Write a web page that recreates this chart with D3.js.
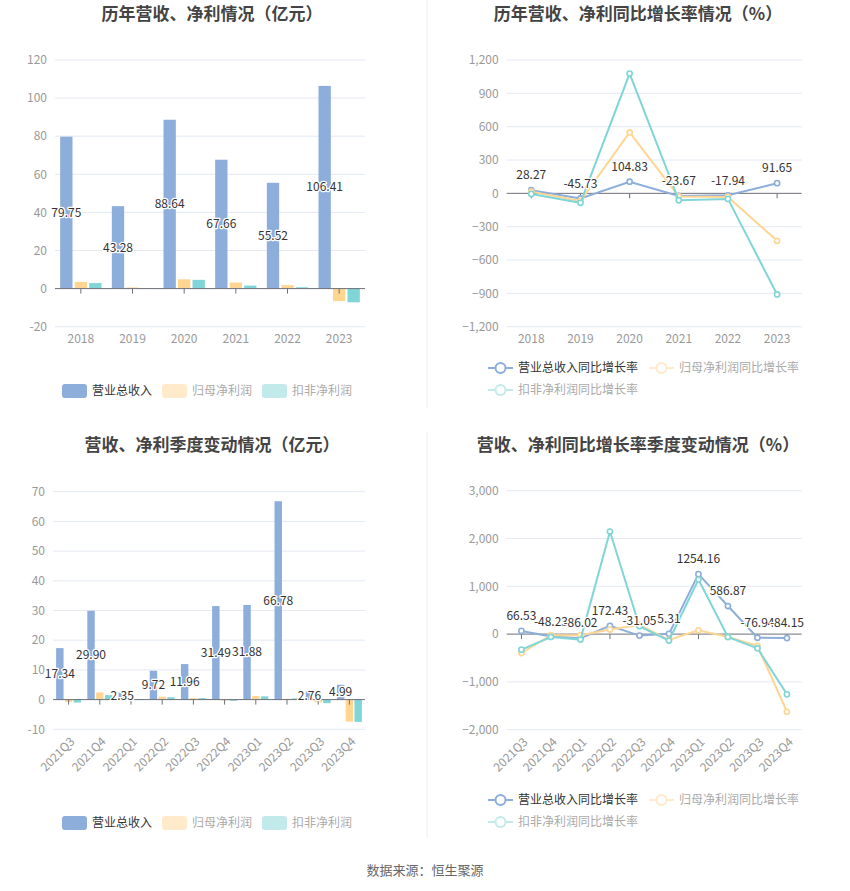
<!DOCTYPE html>
<html>
<head>
<meta charset="utf-8">
<script src="https://cdn.jsdelivr.net/npm/d3@7"></script>
<style>
  body { margin: 0; background: #fff; }
  svg { display: block; font-family: "Noto Sans CJK SC", "Noto Sans", sans-serif; }
</style>
</head>
<body>
<svg id="chart" width="850" height="891"></svg>
<script>
// yearly data (亿元 / %)
const years = ['2018', '2019', '2020', '2021', '2022', '2023'];
const revenue = [79.75, 43.28, 88.64, 67.66, 55.52, 106.41];
const netProfit = [3.5, 0.6, 4.9, 3.2, 1.8, -6.6];
const deductedProfit = [2.9, 0.3, 4.6, 1.6, 0.7, -7.2];
const revenueYoY = [28.27, -45.73, 104.83, -23.67, -17.94, 91.65];
const netProfitYoY = [15, -68, 548, -28, -32, -427];
const deductedYoY = [-5, -85, 1078, -62, -50, -910];

// quarterly data
const quarters = ['2021Q3', '2021Q4', '2022Q1', '2022Q2', '2022Q3', '2022Q4', '2023Q1', '2023Q2', '2023Q3', '2023Q4'];
const qRevenue = [17.34, 29.90, 2.35, 9.72, 11.96, 31.49, 31.88, 66.78, 2.76, 4.99];
const qNetProfit = [-0.8, 2.4, 0.1, 1.0, 0.5, -0.3, 1.2, 0.3, -0.9, -7.4];
const qDeducted = [-1.0, 1.5, 0.1, 0.8, 0.5, -0.4, 1.1, 0.4, -1.2, -7.5];
const qRevenueYoY = [66.53, -48.23, -86.02, 172.43, -31.05, 5.31, 1254.16, 586.87, -76.94, -84.15];
const qNetProfitYoY = [-395, -22, -22, 95, 190, -120, 80, -60, -245, -1625];
const qDeductedYoY = [-325, -60, -115, 2145, 165, -135, 1140, -60, -295, -1260];

const barNames = ['营业总收入', '归母净利润', '扣非净利润'];
const lineNames = ['营业总收入同比增长率', '归母净利润同比增长率', '扣非净利润同比增长率'];

const colors = ['#8DADDB', '#FFD592', '#80D5D7'];
const paleColors = ['#8DADDB', '#FFEBCB', '#C3EAEB'];

const svg = d3.select('#chart');
const gridColor = '#E3E8F3';
const axisColor = '#6E7079';
const labelColor = '#999';

// dividers between panels
svg.append('line').attr('x1', 427).attr('x2', 427).attr('y1', 0).attr('y2', 408)
  .attr('stroke', '#F0F0F0');
svg.append('line').attr('x1', 427).attr('x2', 427).attr('y1', 432).attr('y2', 838)
  .attr('stroke', '#F0F0F0');

function title(x, y, txt) {
  svg.append('text').attr('x', x).attr('y', y).attr('text-anchor', 'middle')
    .attr('dy', '0.35em').attr('font-size', 17).attr('font-weight', 'bold')
    .attr('fill', '#444').text(txt);
}

function yAxis(y, x0, x1, ticks, fmt) {
  const g = svg.append('g');
  g.selectAll('line.grid').data(ticks.filter(t => t !== 0)).join('line')
    .attr('x1', x0).attr('x2', x1)
    .attr('y1', d => y(d)).attr('y2', d => y(d))
    .attr('stroke', gridColor);
  g.selectAll('text').data(ticks).join('text')
    .attr('x', x0 - 8).attr('y', d => y(d)).attr('dy', '0.35em')
    .attr('text-anchor', 'end').attr('font-size', 12).attr('fill', labelColor)
    .text(fmt);
}

function xAxis(cats, xc, y, x0, x1, bottom, rotate) {
  const g = svg.append('g');
  g.append('line').attr('x1', x0).attr('x2', x1).attr('y1', y(0)).attr('y2', y(0))
    .attr('stroke', axisColor);
  g.selectAll('line.tick').data(cats).join('line')
    .attr('x1', d => xc(d)).attr('x2', d => xc(d))
    .attr('y1', y(0)).attr('y2', y(0) + 5).attr('stroke', axisColor);
  const t = g.selectAll('text').data(cats).join('text')
    .attr('font-size', 12).attr('fill', labelColor).text(d => d);
  if (rotate) {
    t.attr('text-anchor', 'end').attr('dy', '0.35em')
      .attr('transform', d => `translate(${xc(d) + 4},${bottom + 10}) rotate(-45)`);
  } else {
    t.attr('text-anchor', 'middle').attr('dy', '0.35em')
      .attr('x', d => xc(d)).attr('y', bottom + 12);
  }
}

function dataLabel(sel) {
  sel.attr('text-anchor', 'middle').attr('dy', '0.35em').attr('font-size', 12)
    .attr('fill', '#333').attr('stroke', '#fff').attr('stroke-width', 2.5)
    .attr('paint-order', 'stroke').attr('stroke-linejoin', 'round');
}

function barChart(o) {
  const y = d3.scaleLinear().domain(o.domain).range([o.bottom, o.top]);
  const x0 = d3.scaleBand().domain(o.cats).range([o.left, o.right])
    .paddingInner(0.2).paddingOuter(0.1);
  const x1 = d3.scaleBand().domain([0, 1, 2]).range([0, x0.bandwidth()])
    .paddingInner(0.15);
  const xc = d => x0(d) + x0.bandwidth() / 2 - (x0.step() * 0) ;
  yAxis(y, o.left, o.right, d3.range(o.domain[0], o.domain[1] + 1, o.step), d => d);

  o.series.forEach((vals, si) => {
    svg.append('g').selectAll('rect').data(vals).join('rect')
      .attr('x', (d, i) => x0(o.cats[i]) + x1(si))
      .attr('width', x1.bandwidth())
      .attr('y', d => y(Math.max(0, d)))
      .attr('height', d => Math.abs(y(d) - y(0)))
      .attr('fill', colors[si]);
  });
  xAxis(o.cats, d => x0(d) + x0.bandwidth() / 2, y, o.left, o.right, o.bottom, o.rotate);

  svg.append('g').selectAll('text').data(o.series[0]).join('text')
    .attr('x', (d, i) => x0(o.cats[i]) + x1(0) + x1.bandwidth() / 2)
    .attr('y', d => (y(d) + y(0)) / 2)
    .call(dataLabel)
    .text(d => d.toFixed(2));
}

function lineChart(o) {
  const y = d3.scaleLinear().domain(o.domain).range([o.bottom, o.top]);
  const x = d3.scalePoint().domain(o.cats).range([o.left, o.right]).padding(0.5);
  yAxis(y, o.left, o.right, d3.range(o.domain[0], o.domain[1] + 1, o.step), d3.format(','));
  xAxis(o.cats, x, y, o.left, o.right, o.bottom, o.rotate);

  const line = d3.line().x((d, i) => x(o.cats[i])).y(d => y(d));
  o.series.forEach((vals, si) => {
    const g = svg.append('g');
    g.append('path').datum(vals).attr('d', line).attr('fill', 'none')
      .attr('stroke', colors[si]).attr('stroke-width', 2);
    g.selectAll('circle').data(vals).join('circle')
      .attr('cx', (d, i) => x(o.cats[i])).attr('cy', d => y(d)).attr('r', 2.6)
      .attr('fill', '#fff').attr('stroke', colors[si]).attr('stroke-width', 1.6);
  });
  svg.append('g').selectAll('text').data(o.series[0]).join('text')
    .attr('x', (d, i) => x(o.cats[i])).attr('y', d => y(d) - 15)
    .call(dataLabel)
    .text(d => d.toFixed(2));
}

function barLegend(x, y) {
  let cx = x;
  barNames.forEach((n, i) => {
    svg.append('rect').attr('x', cx).attr('y', y - 7).attr('width', 25).attr('height', 14)
      .attr('rx', 3).attr('fill', paleColors[i]);
    svg.append('text').attr('x', cx + 30).attr('y', y).attr('dy', '0.35em')
      .attr('font-size', 12).attr('fill', i === 0 ? '#333' : '#aaa').text(n);
    cx += 100;
  });
}

function lineLegend(x, y) {
  lineNames.forEach((n, i) => {
    const lx = x + (i === 1 ? 161 : 0);
    const ly = y + (i === 2 ? 22 : 0);
    svg.append('line').attr('x1', lx).attr('x2', lx + 25).attr('y1', ly).attr('y2', ly)
      .attr('stroke', paleColors[i]).attr('stroke-width', 2);
    svg.append('circle').attr('cx', lx + 12.5).attr('cy', ly).attr('r', 5)
      .attr('fill', '#fff').attr('stroke', paleColors[i]).attr('stroke-width', 2);
    svg.append('text').attr('x', lx + 30).attr('y', ly).attr('dy', '0.35em')
      .attr('font-size', 12).attr('fill', i === 0 ? '#333' : '#aaa').text(n);
  });
}

// top left
title(212, 14, '历年营收、净利情况（亿元）');
barChart({ cats: years, series: [revenue, netProfit, deductedProfit],
  domain: [-20, 120], step: 20, left: 55, right: 365, top: 60, bottom: 326.7 });
barLegend(62, 391);

// top right
title(638, 14, '历年营收、净利同比增长率情况（%）');
lineChart({ cats: years, series: [revenueYoY, netProfitYoY, deductedYoY],
  domain: [-1200, 1200], step: 300, left: 506.7, right: 801.7, top: 60, bottom: 326.7 });
lineLegend(488, 368);

// bottom left
title(212, 445, '营收、净利季度变动情况（亿元）');
barChart({ cats: quarters, series: [qRevenue, qNetProfit, qDeducted],
  domain: [-10, 70], step: 10, left: 53, right: 365, top: 491.7, bottom: 729.3, rotate: true });
barLegend(62, 823);

// bottom right
title(638, 445, '营收、净利同比增长率季度变动情况（%）');
lineChart({ cats: quarters, series: [qRevenueYoY, qNetProfitYoY, qDeductedYoY],
  domain: [-2000, 3000], step: 1000, left: 506.7, right: 801.7, top: 490.7, bottom: 729.7, rotate: true });
lineLegend(488, 800);

svg.append('text').attr('x', 425).attr('y', 870).attr('dy', '0.35em')
  .attr('text-anchor', 'middle').attr('font-size', 13).attr('fill', '#666')
  .text('数据来源：恒生聚源');
</script>
</body>
</html>
